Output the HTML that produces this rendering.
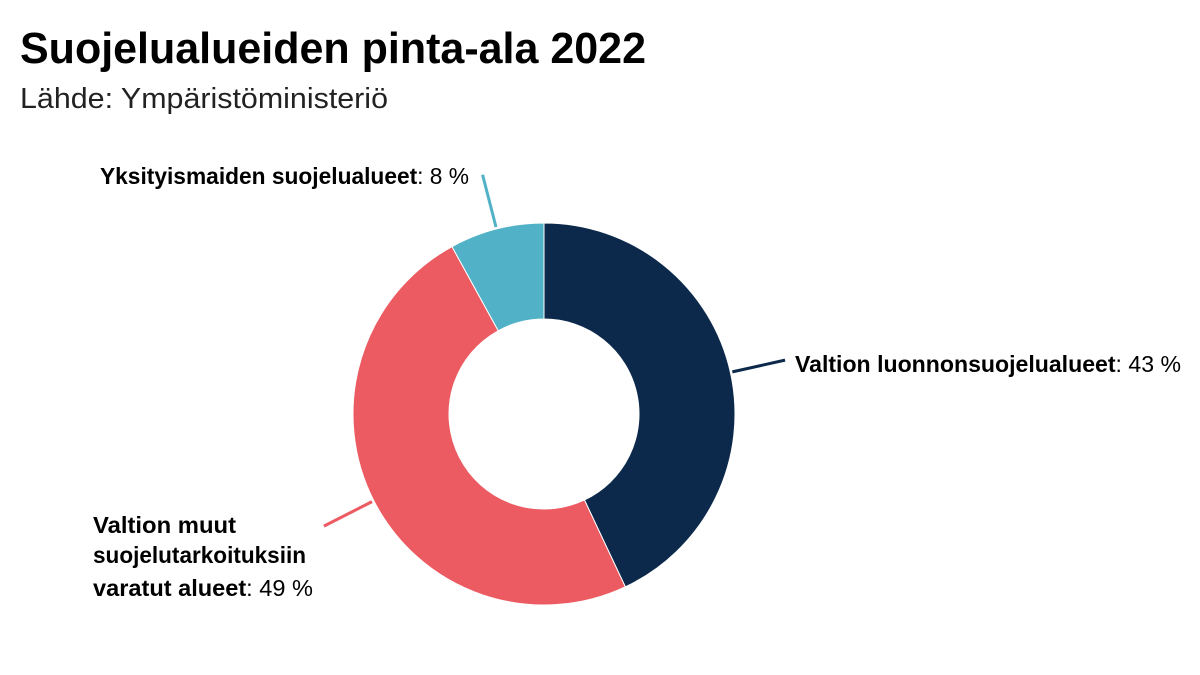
<!DOCTYPE html>
<html><head><meta charset="utf-8"><style>
body{margin:0;background:#fff;}
svg{display:block;font-family:"Liberation Sans Narrow","Liberation Sans",sans-serif;}
</style></head><body>
<svg width="1200" height="675" viewBox="0 0 1200 675">
<text x="20" y="63" font-size="44" font-weight="bold" fill="#000" textLength="626" lengthAdjust="spacingAndGlyphs">Suojelualueiden pinta-ala 2022</text>
<text x="20" y="108" font-size="29" fill="#222" textLength="368" lengthAdjust="spacingAndGlyphs">Lähde: Ympäristöministeriö</text>
<g id="slices"></g>
<g id="labels" font-size="23" fill="#000">
<text x="795" y="372" textLength="386" lengthAdjust="spacingAndGlyphs"><tspan font-weight="bold">Valtion luonnonsuojelualueet</tspan>: 43 %</text>
<text x="100" y="184" textLength="369" lengthAdjust="spacingAndGlyphs"><tspan font-weight="bold">Yksityismaiden suojelualueet</tspan>: 8 %</text>
<text x="93" y="533" font-weight="bold" textLength="143" lengthAdjust="spacingAndGlyphs">Valtion muut</text>
<text x="93" y="563" font-weight="bold" textLength="213" lengthAdjust="spacingAndGlyphs">suojelutarkoituksiin</text>
<text x="93" y="596" textLength="220" lengthAdjust="spacingAndGlyphs"><tspan font-weight="bold">varatut alueet</tspan>: 49 %</text>
</g>
</svg>
<script>
const categories=["Valtion luonnonsuojelualueet","Valtion muut suojelutarkoituksiin varatut alueet","Yksityismaiden suojelualueet"];
const values=[43,49,8];
const colors=["#0c294b","#ec5b61","#51b1c6"];
const cx=544,cy=414,R=191,r=95;
const g=document.getElementById('slices');
const NS="http://www.w3.org/2000/svg";
const total=values.reduce((a,b)=>a+b,0);
function pt(a,rad){return [cx+rad*Math.sin(a),cy-rad*Math.cos(a)];}
let acc=0;
values.forEach((v,i)=>{
  const a0=acc/total*2*Math.PI;acc+=v;const a1=acc/total*2*Math.PI;
  const large=(a1-a0)>Math.PI?1:0;
  const p0=pt(a0,R),p1=pt(a1,R),q1=pt(a1,r),q0=pt(a0,r);
  const p=document.createElementNS(NS,'path');
  p.setAttribute('d',`M${p0[0]},${p0[1]}A${R},${R} 0 ${large} 1 ${p1[0]},${p1[1]}L${q1[0]},${q1[1]}A${r},${r} 0 ${large} 0 ${q0[0]},${q0[1]}Z`);
  p.setAttribute('fill',colors[i]);
  p.setAttribute('stroke','#fff');p.setAttribute('stroke-width','1');
  
  
  g.appendChild(p);
  const am=(a0+a1)/2;const l0=pt(am,193),l1=pt(am,247);
  const l=document.createElementNS(NS,'line');
  l.setAttribute('x1',l0[0]);l.setAttribute('y1',l0[1]);l.setAttribute('x2',l1[0]);l.setAttribute('y2',l1[1]);
  l.setAttribute('stroke',colors[i]);l.setAttribute('stroke-width','3');
  
  
  g.appendChild(l);
});
</script>
</body></html>
